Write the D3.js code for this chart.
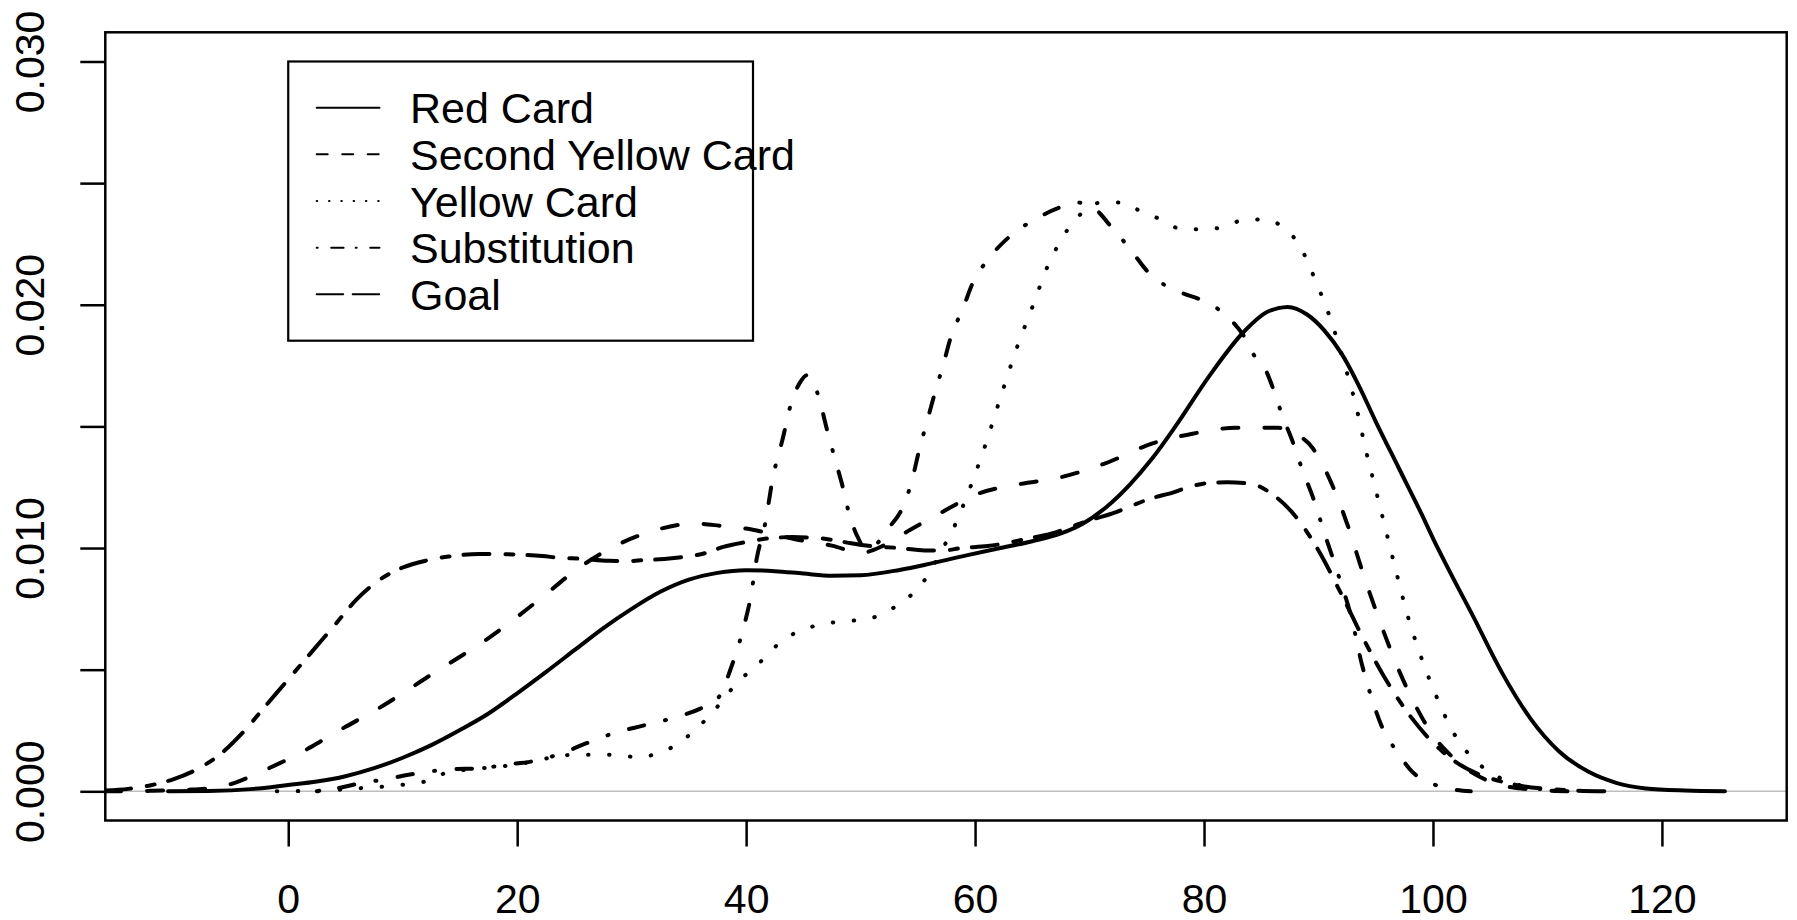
<!DOCTYPE html>
<html><head><meta charset="utf-8">
<script src="https://cdn.jsdelivr.net/npm/d3@7"></script>
<style>body{margin:0;background:#fff}svg{display:block}</style>
</head><body><svg id="chart" width="1797" height="920"></svg>
<script>
// ---------- data ----------
const seriesNames = ["Red Card", "Second Yellow Card", "Yellow Card", "Substitution", "Goal"];
const xTicks = [0, 20, 40, 60, 80, 100, 120];
const yTicks = [0, 0.005, 0.01, 0.015, 0.02, 0.025, 0.03];
const yLabelTicks = [0, 0.01, 0.02, 0.03];

const redCard = [[-10.5,0],[-7,0.00001],[-3,0.0001],[0,0.00026],[2.5,0.0004],[5,0.00062],[7.5,0.00095],[10,0.00138],[12.5,0.0019],[15,0.00252],[17.5,0.0032],[20,0.00403],[22.5,0.0049],[25,0.0058],[27.5,0.0067],[30,0.0075],[32.5,0.0082],[35,0.0087],[37.5,0.00898],[40,0.00909],[42.5,0.00905],[45,0.00895],[47.5,0.00886],[50,0.00888],[53.4,0.0091],[56,0.00935],[59.25,0.0097],[62,0.00998],[65,0.01028],[67.5,0.0106],[69.4,0.011],[71.5,0.0117],[73.5,0.0126],[75.5,0.0137],[77.5,0.015],[80.5,0.0171],[83.5,0.0189],[85.5,0.0197],[87.3,0.01991],[89,0.0196],[90.5,0.01895],[92,0.018],[93.5,0.0167],[95,0.0152],[97,0.0133],[99,0.0114],[100,0.0104],[101.5,0.009],[103.5,0.0072],[106,0.0049],[108.5,0.003],[111,0.00165],[113.6,0.0008],[116,0.00035],[118.6,0.00012],[122,0.00003],[125.5,0]];

const secondYellowCard = [[-16,0],[-12,0.00002],[-9,0.00006],[-7,0.00012],[-5,0.0003],[-3,0.00067],[-1,0.0011],[1,0.00156],[3,0.0021],[5,0.00265],[7.5,0.0033],[10,0.00403],[12.5,0.0048],[15,0.00553],[17.5,0.0063],[20,0.00717],[22.5,0.0081],[25,0.00905],[28,0.00995],[31.5,0.01065],[35.5,0.01101],[38,0.0109],[40,0.0108],[42.5,0.01055],[45,0.0103],[47.5,0.0101],[50,0.0098],[52,0.0101],[54.3,0.01074],[56.9,0.01142],[60.3,0.01224],[63.8,0.01262],[67.4,0.0129],[71.2,0.01345],[75.5,0.0143],[79,0.0147],[82.75,0.01494],[86.5,0.01494],[88,0.0147],[89.5,0.0141],[91,0.0128],[92.5,0.011],[94,0.0088],[95.5,0.0068],[97,0.005],[98.5,0.0035],[100,0.0023],[101.5,0.0015],[103,0.0009],[104.5,0.0005],[106,0.00025],[108,0.0001],[110,0.00003],[112,0]];

const yellowCard = [[-1,0],[3,0.00003],[6,0.00012],[8.5,0.0002],[10.5,0.0003],[12.4,0.00046],[14,0.0008],[16,0.0009],[18,0.001],[20,0.0011],[22,0.0013],[25,0.0015],[28.7,0.0015],[30.5,0.0014],[32.5,0.0016],[34.2,0.002],[35.7,0.0026],[37,0.0032],[38.2,0.0039],[39.5,0.0046],[40.8,0.0051],[42,0.0057],[43.5,0.0063],[45.3,0.0067],[47,0.0069],[49,0.007],[50.8,0.0071],[52.3,0.0074],[54,0.0079],[55.3,0.0085],[56.3,0.0092],[57.2,0.01],[58.1,0.0108],[59.5,0.0124],[60.8,0.0141],[62.5,0.0166],[63.7,0.0183],[65,0.0199],[66.35,0.0216],[67.2,0.0224],[68.1,0.0231],[69.4,0.0238],[71,0.0242],[72.9,0.0242],[74.6,0.0238],[76.3,0.0235],[78.1,0.0231],[79.9,0.0231],[81.75,0.0232],[83.6,0.0235],[85.4,0.0235],[87.1,0.0231],[88.4,0.0224],[89.2,0.0216],[89.9,0.0208],[90.6,0.02],[91.2,0.0192],[92.3,0.0175],[93.3,0.0158],[94.1,0.0141],[95,0.0124],[95.9,0.0107],[96.8,0.009],[97.8,0.0072],[98.9,0.0056],[100.3,0.0039],[101.8,0.0024],[103,0.0016],[104.6,0.0009],[106.6,0.0004],[109,0.00012],[111,0]];

const substitution = [[2.5,0],[4,0.0001],[6,0.0003],[8.5,0.0005],[11.4,0.00075],[14,0.0009],[16.9,0.00095],[19,0.0011],[21.2,0.00122],[23.5,0.0015],[26.2,0.002],[28.5,0.0024],[31,0.0027],[33.5,0.003],[36,0.0034],[37.5,0.0038],[38.7,0.0051],[39.7,0.0066],[40.4,0.008],[40.9,0.0095],[41.7,0.0111],[42.3,0.0128],[43.2,0.0145],[43.9,0.0159],[44.7,0.0168],[45.3,0.0171],[45.9,0.0168],[46.4,0.0161],[47.1,0.0148],[47.8,0.0136],[48.5,0.0124],[49,0.0114],[49.7,0.0105],[50.4,0.01],[51.2,0.0101],[52.4,0.0108],[53.7,0.0117],[54.5,0.0128],[55.1,0.014],[55.8,0.0152],[56.5,0.0164],[57.2,0.0175],[57.9,0.0187],[58.9,0.0198],[59.8,0.0209],[61.2,0.0219],[63,0.0228],[65.2,0.0235],[67.4,0.024],[69,0.0242],[70.7,0.02385],[71.9,0.0232],[73,0.0226],[74,0.022],[75.2,0.0213],[76.6,0.0208],[78,0.0205],[79.75,0.0202],[81.3,0.0198],[82.5,0.0193],[83.5,0.0187],[84.4,0.0179],[85.5,0.0172],[86,0.0166],[86.8,0.0155],[87.8,0.0143],[88.6,0.0132],[89.5,0.0121],[90.6,0.0105],[91.8,0.0088],[92.9,0.0071],[93.8,0.0052],[94.6,0.0039],[95.5,0.0027],[96.9,0.0016],[98.2,0.0008],[100,0.0003],[101.5,0.0001],[103.3,0]];

const goal = [[-16,0.00003],[-14,0.0001],[-12,0.00025],[-10,0.0005],[-8,0.0009],[-6,0.0015],[-4,0.0024],[-2,0.0035],[0,0.0046],[2,0.0057],[4,0.0068],[6,0.0079],[8,0.0087],[10,0.0092],[12,0.00948],[14,0.00965],[16.7,0.00975],[18.2,0.00975],[20.5,0.00972],[22.2,0.00967],[23.7,0.0096],[25.5,0.00956],[28,0.00948],[29.5,0.00946],[31,0.0095],[33.5,0.00958],[36.5,0.0098],[38,0.01005],[40,0.01025],[42,0.0104],[44,0.01045],[46.5,0.0104],[48.5,0.01025],[50.5,0.0101],[53.4,0.01],[55.6,0.0099],[57.2,0.0099],[58.8,0.01],[61.1,0.01008],[62.7,0.0102],[64.3,0.01036],[66.7,0.0106],[68.1,0.01082],[69.7,0.0111],[72,0.01142],[73.5,0.0117],[75.1,0.012],[77.4,0.0123],[78.9,0.01254],[80.5,0.01268],[82,0.0127],[84,0.01265],[86,0.0122],[88,0.0113],[90,0.0099],[92,0.0081],[94,0.0062],[96,0.0045],[98,0.0031],[100,0.002],[102,0.0012],[104,0.0007],[106,0.0004],[108,0.0002],[110,0.0001],[112,0.00004],[115,0]];

// ---------- chart ----------
const W = 1797, H = 920;
const FONT = "'Liberation Sans', Arial, sans-serif";
const plot = {left: 105.3, right: 1786.7, top: 32.3, bottom: 820.5};
const x = d3.scaleLinear().domain([-15.98, 130.9]).range([plot.left, plot.right]);
const y = d3.scaleLinear().domain([-0.0012, 0.0312]).range([plot.bottom, plot.top]);

const svg = d3.select("#chart");
svg.append("rect").attr("width", W).attr("height", H).attr("fill", "#fff");
svg.append("defs").append("clipPath").attr("id", "clip").append("rect")
  .attr("x", plot.left).attr("y", plot.top)
  .attr("width", plot.right - plot.left).attr("height", plot.bottom - plot.top);

const styles = [
  {plot: null, legend: null},
  {plot: "16,26", legend: "11,14.5"},
  {plot: "0.5,20.5", legend: "0.5,11.8"},
  {plot: "1,21.5,15.5,21.5", legend: "1,13.5,12.4,12.1"},
  {plot: "26,16,8,14", legend: "26.5,9.5"}
];
const seriesData = [redCard, secondYellowCard, yellowCard, substitution, goal];
const series = seriesNames.map((n, i) => ({name: n, data: seriesData[i], style: styles[i]}));

const plotG = svg.append("g").attr("clip-path", "url(#clip)");
plotG.append("line")
  .attr("x1", plot.left).attr("x2", plot.right)
  .attr("y1", y(0)).attr("y2", y(0))
  .attr("stroke", "#bebebe").attr("stroke-width", 1.5);

const line = d3.line().x(d => x(d[0])).y(d => y(d[1])).curve(d3.curveMonotoneX);
plotG.selectAll("path.curve").data(series).join("path")
  .attr("class", "curve")
  .attr("d", d => line(d.data))
  .attr("fill", "none").attr("stroke", "#000").attr("stroke-width", 4)
  .attr("stroke-linecap", "round").attr("stroke-linejoin", "round")
  .attr("stroke-dasharray", d => d.style.plot);

svg.append("rect")
  .attr("x", plot.left).attr("y", plot.top)
  .attr("width", plot.right - plot.left).attr("height", plot.bottom - plot.top)
  .attr("fill", "none").attr("stroke", "#000").attr("stroke-width", 2.5);

// x axis
const gx = svg.append("g").attr("transform", `translate(0,${plot.bottom})`)
  .call(d3.axisBottom(x).tickValues(xTicks).tickSize(26).tickPadding(37).tickFormat(d3.format("d")));
gx.attr("font-size", 41).attr("font-family", FONT);
gx.select(".domain").remove();
gx.selectAll(".tick line").attr("stroke", "#000").attr("stroke-width", 2.5);
gx.selectAll(".tick text").attr("fill", "#000");

// y axis
const isLabel = d => yLabelTicks.some(v => Math.abs(v - d) < 1e-9);
const gy = svg.append("g").attr("transform", `translate(${plot.left},0)`)
  .call(d3.axisLeft(y).tickValues(yTicks).tickSize(25)
    .tickFormat(d => isLabel(d) ? d3.format(".3f")(d) : ""));
gy.attr("font-size", 41).attr("font-family", FONT);
gy.select(".domain").remove();
gy.selectAll(".tick line").attr("stroke", "#000").attr("stroke-width", 2.5);
gy.selectAll(".tick text").attr("fill", "#000")
  .attr("transform", "rotate(-90)").attr("x", 0).attr("y", -61.5)
  .attr("dy", null).attr("text-anchor", "middle");

// legend
const lg = svg.append("g").attr("font-family", FONT);
const lgLeft = x(0), lgTop = y(0.03);
lg.append("rect").attr("x", lgLeft).attr("y", lgTop)
  .attr("width", 753 - lgLeft).attr("height", 340.7 - lgTop)
  .attr("fill", "none").attr("stroke", "#000").attr("stroke-width", 2.2);
const rows = lg.selectAll("g.row").data(series).join("g").attr("class", "row")
  .attr("transform", (d, i) => `translate(0,${107.7 + i * 46.65})`);
rows.append("line").attr("x1", 316.7).attr("x2", 379.5).attr("y1", 0).attr("y2", 0)
  .attr("stroke", "#000").attr("stroke-width", 2).attr("stroke-linecap", "round")
  .attr("stroke-dasharray", d => d.style.legend);
rows.append("text").attr("x", 410).attr("y", 15.5).attr("font-size", 43)
  .attr("fill", "#000").text(d => d.name);
</script></body></html>
